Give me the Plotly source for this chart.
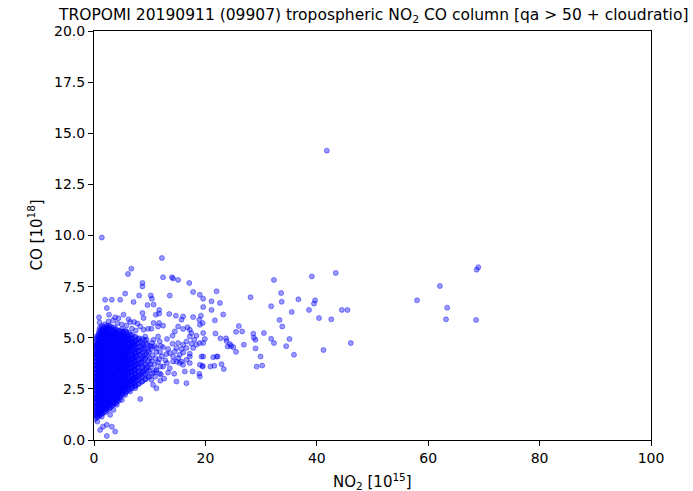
import plotly.graph_objects as go

# ---- data: (NO2 [1e15], CO [1e18]) ----
core_a = [
    (0.2,1.02),(0.4,1.2),(0.3,1.36),(0.15,1.55),(0.45,1.71),(0.25,1.9),(0.35,2.05),(0.2,2.23),(0.4,2.41),(0.3,2.58),(0.15,2.77),(0.45,2.93),(0.25,3.12),(0.35,3.3),(0.2,3.47),(0.4,3.66),(0.3,3.84),(0.15,4.01),(0.45,4.2),(0.25,4.38),(0.35,4.55),(0.2,4.74),(0.4,4.95),
    (0.7,1.12),(0.85,1.3),(0.6,1.49),(0.75,1.66),(0.9,1.83),(0.65,2.02),(0.8,2.19),(0.7,2.37),(0.55,2.55),(0.85,2.72),(0.7,2.9),(0.6,3.08),(0.8,3.26),(0.75,3.44),(0.65,3.61),(0.9,3.8),(0.7,3.97),(0.55,4.15),(0.85,4.34),(0.7,4.51),(0.6,4.7),(0.8,4.88),(0.7,5.06),(0.9,5.25),
    (1.1,1.2),(1.25,1.38),(1.0,1.57),(1.15,1.74),(1.3,1.93),(1.05,2.1),(1.2,2.28),(1.1,2.46),(0.95,2.64),(1.25,2.81),(1.1,3.0),(1.0,3.17),(1.2,3.35),(1.15,3.53),(1.05,3.71),(1.3,3.89),(1.1,4.06),(0.95,4.24),(1.25,4.42),(1.1,4.6),(1.0,4.78),(1.2,4.96),(1.1,5.14),(1.3,5.32),(1.05,5.5),
    (1.5,1.28),(1.65,1.46),(1.4,1.63),(1.55,1.82),(1.7,2.0),(1.45,2.17),(1.6,2.35),(1.5,2.53),(1.35,2.7),(1.65,2.88),(1.5,3.06),(1.4,3.24),(1.6,3.41),(1.55,3.6),(1.45,3.78),(1.7,3.95),(1.5,4.13),(1.35,4.31),(1.65,4.49),(1.5,4.66),(1.4,4.85),(1.6,5.02),(1.5,5.2),(1.7,5.39),(1.45,5.58),
    (2.0,1.35),(2.15,1.52),(1.9,1.7),(2.05,1.88),(2.2,2.06),(1.95,2.24),(2.1,2.42),(2.0,2.6),(1.85,2.77),(2.15,2.95),(2.0,3.13),(1.9,3.31),(2.1,3.49),(2.05,3.66),(1.95,3.84),(2.2,4.02),(2.0,4.2),(1.85,4.38),(2.15,4.56),(2.0,4.73),(1.9,4.91),(2.1,5.1),(2.0,5.28),(2.2,5.46),(1.95,5.65),
]
core_b = [
    (2.5,1.48),(2.65,1.66),(2.4,1.84),(2.55,2.02),(2.7,2.2),(2.45,2.38),(2.6,2.56),(2.5,2.74),(2.35,2.92),(2.65,3.1),(2.5,3.28),(2.4,3.46),(2.6,3.64),(2.55,3.82),(2.45,4.0),(2.7,4.18),(2.5,4.36),(2.35,4.54),(2.65,4.72),(2.5,4.9),(2.4,5.08),(2.6,5.26),(2.5,5.44),(2.7,5.6),
    (3.0,1.6),(3.15,1.78),(2.9,1.96),(3.05,2.14),(3.2,2.32),(2.95,2.5),(3.1,2.68),(3.0,2.86),(2.85,3.04),(3.15,3.22),(3.0,3.4),(2.9,3.58),(3.1,3.76),(3.05,3.94),(2.95,4.12),(3.2,4.3),(3.0,4.48),(2.85,4.66),(3.15,4.84),(3.0,5.02),(2.9,5.2),(3.1,5.38),(3.0,5.56),
    (3.5,1.72),(3.65,1.9),(3.4,2.08),(3.55,2.26),(3.7,2.44),(3.45,2.62),(3.6,2.8),(3.5,2.98),(3.35,3.16),(3.65,3.34),(3.5,3.52),(3.4,3.7),(3.6,3.88),(3.55,4.06),(3.45,4.24),(3.7,4.42),(3.5,4.6),(3.35,4.78),(3.65,4.96),(3.5,5.14),(3.4,5.32),(3.6,5.5),
    (4.0,1.82),(4.15,2.0),(3.9,2.18),(4.05,2.36),(4.2,2.54),(3.95,2.72),(4.1,2.9),(4.0,3.08),(3.85,3.26),(4.15,3.44),(4.0,3.62),(3.9,3.8),(4.1,3.98),(4.05,4.16),(3.95,4.34),(4.2,4.52),(4.0,4.7),(3.85,4.88),(4.15,5.06),(4.0,5.24),(3.9,5.42),
    (4.5,1.94),(4.65,2.12),(4.4,2.3),(4.55,2.48),(4.7,2.66),(4.45,2.84),(4.6,3.02),(4.5,3.2),(4.35,3.38),(4.65,3.56),(4.5,3.74),(4.4,3.92),(4.6,4.1),(4.55,4.28),(4.45,4.46),(4.7,4.64),(4.5,4.82),(4.35,5.0),(4.65,5.18),(4.5,5.36),
    (5.15,2.22),(4.9,2.4),(5.05,2.58),(5.2,2.76),(4.95,2.94),(5.1,3.12),(5.0,3.3),(4.85,3.48),(5.15,3.66),(5.0,3.84),(4.9,4.02),(5.1,4.2),(5.05,4.38),(4.95,4.56),(5.2,4.74),(5.0,4.92),(4.85,5.1),(5.15,5.28),(5.0,5.42),
    (5.65,2.32),(5.4,2.5),(5.55,2.68),(5.7,2.86),(5.45,3.04),(5.6,3.22),(5.5,3.4),(5.35,3.58),(5.65,3.76),(5.5,3.94),(5.4,4.12),(5.6,4.3),(5.55,4.48),(5.45,4.66),(5.7,4.84),(5.5,5.02),(5.35,5.2),(5.6,5.36),
    (6.15,2.42),(5.9,2.6),(6.05,2.78),(6.2,2.96),(5.95,3.14),(6.1,3.32),(6.0,3.5),(5.85,3.68),(6.15,3.86),(6.0,4.04),(5.9,4.22),(6.1,4.4),(6.05,4.58),(5.95,4.76),(6.2,4.94),(6.0,5.12),(5.85,5.3),
]
core_c = [
    (6.75,2.52),(6.5,2.72),(6.65,2.92),(6.8,3.12),(6.55,3.32),(6.7,3.52),(6.6,3.72),(6.45,3.92),(6.75,4.12),(6.6,4.32),(6.5,4.52),(6.7,4.72),(6.65,4.92),(6.55,5.14),
    (7.35,2.62),(7.1,2.82),(7.25,3.02),(7.4,3.22),(7.15,3.42),(7.3,3.62),(7.2,3.82),(7.05,4.02),(7.35,4.22),(7.2,4.42),(7.1,4.62),(7.3,4.82),(7.25,5.04),
    (7.95,2.72),(7.7,2.92),(7.85,3.12),(8.0,3.32),(7.75,3.52),(7.9,3.72),(7.8,3.92),(7.65,4.12),(7.95,4.32),(7.8,4.52),(7.7,4.72),(7.9,4.94),
    (8.55,2.84),(8.3,3.06),(8.45,3.28),(8.6,3.5),(8.35,3.72),(8.5,3.94),(8.4,4.16),(8.25,4.38),(8.55,4.6),(8.4,4.84),
    (9.15,2.96),(8.9,3.2),(9.05,3.44),(9.2,3.68),(8.95,3.92),(9.1,4.16),(9.0,4.4),(8.85,4.64),(9.1,4.88),
    (9.75,3.08),(9.5,3.34),(9.65,3.6),(9.8,3.86),(9.55,4.12),(9.7,4.38),(9.6,4.64),(9.45,4.9),
    (10.3,2.95),(10.45,3.25),(10.2,3.55),(10.35,3.85),(10.5,4.15),(10.25,4.45),(10.4,4.75),
    (11.0,3.1),(11.15,3.4),(10.9,3.7),(11.05,4.0),(11.2,4.3),(10.95,4.6),
    (11.8,3.25),(11.95,3.6),(11.7,3.95),(11.85,4.3),(12.0,4.6),
]
fill_a = [
    (0.5,1.11),(0.42,1.29),(0.58,1.47),(0.5,1.65),(0.38,1.83),(0.55,2.01),(0.47,2.19),(0.6,2.37),(0.45,2.55),(0.52,2.73),(0.4,2.91),(0.57,3.09),(0.5,3.27),(0.43,3.45),(0.6,3.63),(0.48,3.81),(0.55,3.99),(0.4,4.17),(0.52,4.35),(0.46,4.53),(0.58,4.71),(0.5,4.89),(0.44,5.07),
    (0.9,1.21),(0.82,1.39),(0.98,1.57),(0.9,1.75),(0.78,1.93),(0.95,2.11),(0.87,2.29),(1.0,2.47),(0.85,2.65),(0.92,2.83),(0.8,3.01),(0.97,3.19),(0.9,3.37),(0.83,3.55),(1.0,3.73),(0.88,3.91),(0.95,4.09),(0.8,4.27),(0.92,4.45),(0.86,4.63),(0.98,4.81),(0.9,4.99),(0.84,5.17),(0.95,5.37),
    (1.3,1.29),(1.22,1.47),(1.38,1.65),(1.3,1.83),(1.18,2.01),(1.35,2.19),(1.27,2.37),(1.4,2.55),(1.25,2.73),(1.32,2.91),(1.2,3.09),(1.37,3.27),(1.3,3.45),(1.23,3.63),(1.4,3.81),(1.28,3.99),(1.35,4.17),(1.2,4.35),(1.32,4.53),(1.26,4.71),(1.38,4.89),(1.3,5.07),(1.24,5.25),(1.35,5.45),
    (1.75,1.37),(1.67,1.55),(1.83,1.73),(1.75,1.91),(1.63,2.09),(1.8,2.27),(1.72,2.45),(1.85,2.63),(1.7,2.81),(1.77,2.99),(1.65,3.17),(1.82,3.35),(1.75,3.53),(1.68,3.71),(1.85,3.89),(1.73,4.07),(1.8,4.25),(1.65,4.43),(1.77,4.61),(1.71,4.79),(1.83,4.97),(1.75,5.15),(1.69,5.33),(1.8,5.52),
    (2.25,1.45),(2.17,1.63),(2.33,1.81),(2.25,1.99),(2.13,2.17),(2.3,2.35),(2.22,2.53),(2.35,2.71),(2.2,2.89),(2.27,3.07),(2.15,3.25),(2.32,3.43),(2.25,3.61),(2.18,3.79),(2.35,3.97),(2.23,4.15),(2.3,4.33),(2.15,4.51),(2.27,4.69),(2.21,4.87),(2.33,5.05),(2.25,5.23),(2.19,5.41),(2.3,5.58),
]
fill_b = [
    (2.75,1.55),(2.67,1.73),(2.83,1.91),(2.75,2.09),(2.63,2.27),(2.8,2.45),(2.72,2.63),(2.85,2.81),(2.7,2.99),(2.77,3.17),(2.65,3.35),(2.82,3.53),(2.75,3.71),(2.68,3.89),(2.85,4.07),(2.73,4.25),(2.8,4.43),(2.65,4.61),(2.77,4.79),(2.71,4.97),(2.83,5.15),(2.75,5.33),(2.69,5.52),
    (3.25,1.67),(3.17,1.85),(3.33,2.03),(3.25,2.21),(3.13,2.39),(3.3,2.57),(3.22,2.75),(3.35,2.93),(3.2,3.11),(3.27,3.29),(3.15,3.47),(3.32,3.65),(3.25,3.83),(3.18,4.01),(3.35,4.19),(3.23,4.37),(3.3,4.55),(3.15,4.73),(3.27,4.91),(3.21,5.09),(3.33,5.27),(3.25,5.47),
    (3.75,1.77),(3.67,1.95),(3.83,2.13),(3.75,2.31),(3.63,2.49),(3.8,2.67),(3.72,2.85),(3.85,3.03),(3.7,3.21),(3.77,3.39),(3.65,3.57),(3.82,3.75),(3.75,3.93),(3.68,4.11),(3.85,4.29),(3.73,4.47),(3.8,4.65),(3.65,4.83),(3.77,5.01),(3.71,5.19),(3.83,5.4),
    (4.25,1.9),(4.17,2.08),(4.33,2.26),(4.25,2.44),(4.13,2.62),(4.3,2.8),(4.22,2.98),(4.35,3.16),(4.2,3.34),(4.27,3.52),(4.15,3.7),(4.32,3.88),(4.25,4.06),(4.18,4.24),(4.35,4.42),(4.23,4.6),(4.3,4.78),(4.15,4.96),(4.27,5.14),(4.21,5.34),
    (4.75,2.07),(4.67,2.25),(4.83,2.43),(4.75,2.61),(4.63,2.79),(4.8,2.97),(4.72,3.15),(4.85,3.33),(4.7,3.51),(4.77,3.69),(4.65,3.87),(4.82,4.05),(4.75,4.23),(4.68,4.41),(4.85,4.59),(4.73,4.77),(4.8,4.95),(4.65,5.13),(4.77,5.32),
    (5.25,2.25),(5.17,2.43),(5.33,2.61),(5.25,2.79),(5.13,2.97),(5.3,3.15),(5.22,3.33),(5.35,3.51),(5.2,3.69),(5.27,3.87),(5.15,4.05),(5.32,4.23),(5.25,4.41),(5.18,4.59),(5.35,4.77),(5.23,4.95),(5.3,5.13),(5.2,5.3),
    (5.75,2.37),(5.67,2.55),(5.83,2.73),(5.75,2.91),(5.63,3.09),(5.8,3.27),(5.72,3.45),(5.85,3.63),(5.7,3.81),(5.77,3.99),(5.65,4.17),(5.82,4.35),(5.75,4.53),(5.68,4.71),(5.85,4.89),(5.73,5.07),(5.8,5.25),
]
fill_c = [
    (6.3,2.47),(6.22,2.67),(6.38,2.87),(6.3,3.07),(6.18,3.27),(6.35,3.47),(6.27,3.67),(6.4,3.87),(6.25,4.07),(6.32,4.27),(6.2,4.47),(6.37,4.67),(6.3,4.87),(6.23,5.07),(6.35,5.22),
    (6.9,2.57),(6.82,2.77),(6.98,2.97),(6.9,3.17),(6.78,3.37),(6.95,3.57),(6.87,3.77),(7.0,3.97),(6.85,4.17),(6.92,4.37),(6.8,4.57),(6.97,4.77),(6.9,4.97),(6.83,5.15),
    (7.5,2.67),(7.42,2.87),(7.58,3.07),(7.5,3.27),(7.38,3.47),(7.55,3.67),(7.47,3.87),(7.6,4.07),(7.45,4.27),(7.52,4.47),(7.4,4.67),(7.57,4.87),(7.5,5.05),
    (8.1,2.77),(8.02,2.97),(8.18,3.17),(8.1,3.37),(7.98,3.57),(8.15,3.77),(8.07,3.97),(8.2,4.17),(8.05,4.37),(8.12,4.57),(8.0,4.77),(8.15,4.97),
    (8.7,2.87),(8.62,3.1),(8.78,3.33),(8.7,3.56),(8.58,3.79),(8.75,4.02),(8.67,4.25),(8.8,4.48),(8.65,4.71),(8.72,4.94),
    (9.3,2.97),(9.22,3.22),(9.38,3.47),(9.3,3.72),(9.18,3.97),(9.35,4.22),(9.27,4.47),(9.4,4.72),
    (10.0,3.1),(9.92,3.4),(10.08,3.7),(10.0,4.0),(9.88,4.3),(10.05,4.6),
]
dense_a = [
    (0.33,1.25),(0.37,1.45),(0.3,1.65),(0.4,1.85),(0.34,2.05),(0.28,2.25),(0.38,2.45),(0.32,2.65),(0.36,2.85),(0.3,3.05),(0.4,3.25),(0.35,3.45),(0.29,3.65),(0.37,3.85),(0.33,4.05),(0.39,4.25),(0.31,4.45),(0.36,4.65),
    (0.78,1.3),(0.82,1.5),(0.75,1.7),(0.85,1.9),(0.79,2.1),(0.73,2.3),(0.83,2.5),(0.77,2.7),(0.81,2.9),(0.75,3.1),(0.85,3.3),(0.8,3.5),(0.74,3.7),(0.82,3.9),(0.78,4.1),(0.84,4.3),(0.76,4.5),(0.81,4.7),(0.79,4.9),
    (1.18,1.4),(1.22,1.6),(1.15,1.8),(1.25,2.0),(1.19,2.2),(1.13,2.4),(1.23,2.6),(1.17,2.8),(1.21,3.0),(1.15,3.2),(1.25,3.4),(1.2,3.6),(1.14,3.8),(1.22,4.0),(1.18,4.2),(1.24,4.4),(1.16,4.6),(1.21,4.8),(1.19,5.0),(1.23,5.2),
    (1.63,1.5),(1.67,1.7),(1.6,1.9),(1.7,2.1),(1.64,2.3),(1.58,2.5),(1.68,2.7),(1.62,2.9),(1.66,3.1),(1.6,3.3),(1.7,3.5),(1.65,3.7),(1.59,3.9),(1.67,4.1),(1.63,4.3),(1.69,4.5),(1.61,4.7),(1.66,4.9),(1.64,5.1),(1.68,5.3),
    (2.08,1.56),(2.12,1.76),(2.05,1.96),(2.15,2.16),(2.09,2.36),(2.03,2.56),(2.13,2.76),(2.07,2.96),(2.11,3.16),(2.05,3.36),(2.15,3.56),(2.1,3.76),(2.04,3.96),(2.12,4.16),(2.08,4.36),(2.14,4.56),(2.06,4.76),(2.11,4.96),(2.09,5.16),(2.13,5.36),
    (2.58,1.66),(2.62,1.86),(2.55,2.06),(2.65,2.26),(2.59,2.46),(2.53,2.66),(2.63,2.86),(2.57,3.06),(2.61,3.26),(2.55,3.46),(2.65,3.66),(2.6,3.86),(2.54,4.06),(2.62,4.26),(2.58,4.46),(2.64,4.66),(2.56,4.86),(2.61,5.06),(2.59,5.26),
]
dense_b = [
    (3.08,1.76),(3.12,1.96),(3.05,2.16),(3.15,2.36),(3.09,2.56),(3.03,2.76),(3.13,2.96),(3.07,3.16),(3.11,3.36),(3.05,3.56),(3.15,3.76),(3.1,3.96),(3.04,4.16),(3.12,4.36),(3.08,4.56),(3.14,4.76),(3.06,4.96),(3.11,5.16),
    (3.58,1.86),(3.62,2.06),(3.55,2.26),(3.65,2.46),(3.59,2.66),(3.53,2.86),(3.63,3.06),(3.57,3.26),(3.61,3.46),(3.55,3.66),(3.65,3.86),(3.6,4.06),(3.54,4.26),(3.62,4.46),(3.58,4.66),(3.64,4.86),(3.56,5.06),(3.61,5.24),
    (4.08,2.0),(4.12,2.2),(4.05,2.4),(4.15,2.6),(4.09,2.8),(4.03,3.0),(4.13,3.2),(4.07,3.4),(4.11,3.6),(4.05,3.8),(4.15,4.0),(4.1,4.2),(4.04,4.4),(4.12,4.6),(4.08,4.8),(4.14,5.0),(4.06,5.18),
    (4.58,2.16),(4.62,2.36),(4.55,2.56),(4.65,2.76),(4.59,2.96),(4.53,3.16),(4.63,3.36),(4.57,3.56),(4.61,3.76),(4.55,3.96),(4.65,4.16),(4.6,4.36),(4.54,4.56),(4.62,4.76),(4.58,4.96),(4.64,5.14),
    (5.08,2.32),(5.12,2.52),(5.05,2.72),(5.15,2.92),(5.09,3.12),(5.03,3.32),(5.13,3.52),(5.07,3.72),(5.11,3.92),(5.05,4.12),(5.15,4.32),(5.1,4.52),(5.04,4.72),(5.12,4.92),(5.08,5.1),
    (5.58,2.46),(5.62,2.66),(5.55,2.86),(5.65,3.06),(5.59,3.26),(5.53,3.46),(5.63,3.66),(5.57,3.86),(5.61,4.06),(5.55,4.26),(5.65,4.46),(5.6,4.66),(5.54,4.86),(5.62,5.04),
    (6.08,2.56),(6.12,2.76),(6.05,2.96),(6.15,3.16),(6.09,3.36),(6.03,3.56),(6.13,3.76),(6.07,3.96),(6.11,4.16),(6.05,4.36),(6.15,4.56),(6.1,4.76),(6.04,4.96),
    (6.68,2.66),(6.72,2.88),(6.65,3.1),(6.75,3.32),(6.69,3.54),(6.63,3.76),(6.73,3.98),(6.67,4.2),(6.71,4.42),(6.65,4.64),(6.75,4.86),
    (7.28,2.76),(7.32,2.98),(7.25,3.2),(7.35,3.42),(7.29,3.64),(7.23,3.86),(7.33,4.08),(7.27,4.3),(7.31,4.52),(7.25,4.74),
]
arm = [
    (13.6,4.25),(14.5,4.33),(15.4,4.17),(16.0,4.28),(17.2,4.22),(16.6,3.92),(15.4,3.76),(14.2,3.84),(13.1,3.76),(12.4,3.59),(11.2,3.43),(13.6,3.51),(16.0,3.68),(15.1,4.0),(17.2,3.76),
    (10.4,4.57),(11.2,4.5),(12.4,4.54),(13.3,4.45),(14.8,4.5),(15.7,4.45),(16.6,4.5),
    (11.5,5.06),(10.7,4.9),(11.8,4.82),(13.1,4.94),(14.1,4.71),(15.1,4.74),(16.0,4.66),(16.6,4.82),
    (17.5,4.71),(18.4,4.66),(19.0,4.74),(17.8,4.5),
    (17.2,5.39),(17.5,5.23),(18.4,5.1),(17.2,5.06),(18.0,4.9),(19.6,5.23),(19.9,4.94),(19.6,4.74),
    (15.1,5.55),(16.0,5.43),(16.8,5.51),(14.5,5.31),(14.1,5.1),
    (11.7,5.72),(12.4,5.59),(10.7,5.72),
    (19.3,4.08),(19.0,3.68),(19.5,3.63),(17.7,3.35),(18.9,3.24),(19.0,3.1),(16.3,3.35),(14.4,3.24),(14.8,2.86),(16.6,2.78),(11.2,2.53),
    (14.2,4.08),(14.8,3.84),(15.7,3.84),(17.2,4.08),(19.6,4.08),(19.5,3.59),
    (10.8,3.3),(11.5,3.8),(12.2,4.1),(12.8,3.9),(12.0,3.2),(13.0,4.2),(12.6,3.0),(10.6,2.7),(11.9,2.9),(13.3,3.3),
]
upper = [
    (13.6,7.06),(17.8,7.24),(19.0,7.1),(19.6,6.5),(10.7,6.62),(11.1,6.13),(11.7,6.18),(13.5,6.16),(14.7,6.08),(16.0,6.04),(17.8,6.01),(18.9,5.88),(19.2,6.08),(15.7,5.88),(19.5,5.72),(19.0,5.64),
    (12.2,8.9),(6.7,8.38),(6.1,8.12),(8.7,7.68),(8.7,7.51),(12.4,7.96),(14.0,7.96),(14.2,7.9),(15.1,7.83),(17.1,7.68),(19.6,6.91),(5.6,7.16),(2.0,6.86),(3.2,6.86),(4.7,6.86),(7.1,6.75),(8.1,7.06),(10.2,7.07),(10.4,6.91),(9.6,6.6),(11.7,6.36),
    (2.3,6.45),(2.7,6.13),(5.3,6.13),(8.7,6.21),(8.9,5.96),(6.5,5.77),(7.2,5.77),(9.7,5.44),(11.5,5.55),(10.3,5.44),(8.9,5.39),(9.2,5.06),(1.4,9.9),
    (1.0,5.75),(2.6,5.8),(3.4,5.85),(4.2,5.7),(5.0,5.65),(5.8,5.6),(3.8,6.0),(4.4,5.95),(6.2,5.9),(7.8,5.7),(8.3,5.55),(6.8,5.45),(7.5,5.35),(0.9,6.0),
]
lower = [
    (0.6,0.9),(1.6,0.65),(2.3,0.74),(3.2,0.65),(3.8,0.41),(2.3,0.2),(1.1,0.49),(1.4,1.14),(2.9,1.23),(3.5,1.47),(4.1,1.72),(5.0,1.96),(5.6,2.2),(6.5,2.37),(7.4,2.53),(8.3,2.0),
]
far = [
    (43.4,8.17),(39.1,8.0),(32.3,7.83),(33.6,7.19),(22.0,7.27),(28.1,6.98),(36.7,6.88),(33.7,6.76),(39.7,6.83),(39.5,6.67),(31.8,6.54),(35.5,6.26),(38.6,6.36),(44.5,6.36),(45.5,6.36),(40.4,5.96),(42.6,5.9),(33.3,5.87),(33.8,5.55),(46.1,4.74),(41.2,4.40),(35.9,4.17),(35.1,4.94),(34.5,4.59),(31.8,4.95),(32.3,4.74),(30.5,5.23),(28.6,5.2),(28.7,5.0),(29.0,4.9),(29.0,4.48),(29.9,4.08),(29.2,3.59),(30.2,3.64),(26.0,5.57),(25.5,5.29),(26.6,5.31),(26.9,4.66),(24.4,4.69),(25.0,4.54),(25.5,4.31),(24.6,4.6),(24.0,4.57),(23.8,4.84),(22.7,4.97),(23.7,4.97),(21.8,5.21),(21.4,4.05),(22.0,4.08),(22.2,4.08),(20.9,3.59),(21.6,3.63),(22.9,3.71),(23.3,3.47),(21.7,5.85),(23.2,6.14),(21.1,6.78),(22.6,6.7),(21.1,6.36),
    (69.0,8.45),(68.7,8.33),(62.1,7.53),(58.0,6.83),(63.4,6.47),(63.2,5.9),(68.6,5.87),(41.8,14.15),
]

x_ticks = [0, 20, 40, 60, 80, 100]
y_ticks = [0.0, 2.5, 5.0, 7.5, 10.0, 12.5, 15.0, 17.5, 20.0]

pts = (core_a + fill_a + dense_a + core_b + fill_b + dense_b + core_c + fill_c
       + arm + upper + lower + far)
no2 = [p[0] for p in pts]
co = [p[1] for p in pts]

FONT = "DejaVu Sans"

fig = go.Figure(go.Scatter(
    x=no2, y=co, mode="markers",
    marker=dict(size=5, color="rgba(0,0,255,0.4)",
                line=dict(color="rgba(0,0,255,0.4)", width=1)),
    hoverinfo="skip", showlegend=False))

axis_common = dict(showgrid=False, zeroline=False, showline=True, linecolor="black",
                   linewidth=1, mirror=True, ticks="outside", ticklen=5, tickwidth=1,
                   tickcolor="black", tickfont=dict(family=FONT, size=14, color="black"))
fig.update_xaxes(range=[0, 100], tickvals=x_ticks, ticktext=[str(v) for v in x_ticks], **axis_common)
fig.update_yaxes(range=[0, 20], tickvals=y_ticks, ticktext=[f"{v:.1f}" for v in y_ticks], **axis_common)

fig.update_layout(
    width=693, height=491,
    margin=dict(l=94, r=42, t=31, b=51),
    plot_bgcolor="white", paper_bgcolor="white",
    font=dict(family=FONT, color="black"),
    annotations=[
        dict(text="TROPOMI 20190911 (09907) tropospheric NO<sub>2</sub> CO column [qa &gt; 50 + cloudratio]",
             xref="paper", yref="paper", x=0.5, y=1, yanchor="bottom", yshift=3,
             showarrow=False, font=dict(family=FONT, size=15.5, color="black")),
        dict(text="NO<sub>2</sub> [10<sup>15</sup>]", xref="paper", yref="paper", x=0.5, y=0,
             yanchor="middle", yshift=-41, showarrow=False,
             font=dict(family=FONT, size=15, color="black")),
        dict(text="CO [10<sup>18</sup>]", xref="paper", yref="paper", x=0, y=0.5,
             xanchor="center", xshift=-59, textangle=-90, showarrow=False,
             font=dict(family=FONT, size=15, color="black")),
    ],
)

fig.write_html("out.html")
